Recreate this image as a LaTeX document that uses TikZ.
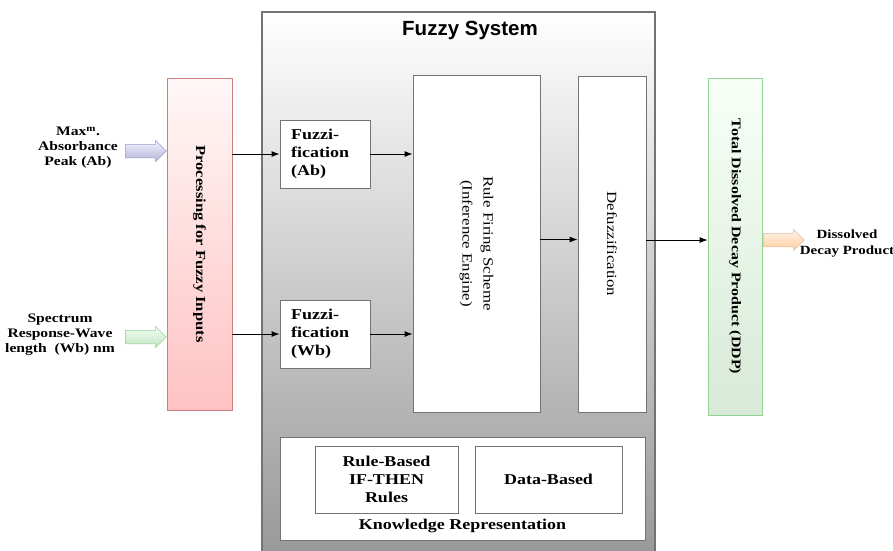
\documentclass[tikz,border=0pt]{standalone}
\usepackage{fontspec}
\setmainfont{Liberation Serif}[FakeStretch=1.2]
\setsansfont{Liberation Sans}
\usetikzlibrary{positioning,shapes.arrows,arrows.meta}

\begin{document}
\begin{tikzpicture}[
		x=1pt, y=-1pt,
		ar/.style={-{Latex[length=8pt,width=6pt]}, line width=0.9pt},
		mybox/.style={draw=black!55, fill=white, line width=0.9pt, inner sep=0pt},
		txt/.style={font=\bfseries\fontsize{15}{18}\selectfont, align=left},
		vtxt/.style={rotate=-90, align=center},
		fatar/.style={single arrow, minimum width=21pt, minimum height=41pt, single arrow head extend=4pt, inner xsep=0pt, inner ysep=6.5pt, anchor=west, line width=0.5pt}
	]
		\useasboundingbox (0,0) rectangle (893,550);
		% fuzzy system frame
		\node[draw=black!55, line width=1.2pt, top color=white, bottom color=black!40, minimum width=393pt, minimum height=540pt, inner sep=0pt] (sys) at (458.5,282) {};
		\node[font=\sffamily\bfseries\fontsize{20.5}{24}\selectfont] (title) at (470,30) {Fuzzy System};

		% inputs
		\node[fatar, draw=blue!30!gray!60, top color=blue!5, bottom color=blue!30!gray!45] (inab) at (125,151) {};
		\node[fatar, draw=green!40!gray!60, top color=green!5, bottom color=green!35!gray!35] (inwb) at (125,337) {};
		\node[font=\bfseries\fontsize{13}{15}\selectfont, align=center] (ablbl) at (78,148) {Max\textsuperscript{m}.\\Absorbance\\Peak (Ab)};
		\node[font=\bfseries\fontsize{13}{15}\selectfont, align=center] (wblbl) at (60,335) {Spectrum\\Response-Wave\\length\ \ (Wb) nm};

		% processing
		\node[draw=red!45!gray!70, line width=0.7pt, top color=red!3, bottom color=red!24, minimum width=65pt, minimum height=332pt, inner sep=0pt] (proc) at (199.5,244) {};
		\node[vtxt, font=\bfseries\fontsize{13.8}{17}\selectfont] (proctxt) at (proc) {Processing for Fuzzy Inputs};

		% fuzzification
		\node[mybox, minimum width=90pt, minimum height=68pt] (fuzzab) at (325,154) {};
		\node[txt, anchor=west] (fuzzabtxt) at ([xshift=8pt]fuzzab.west) {Fuzzi-\\fication\\(Ab)};
		\node[mybox, minimum width=90pt, minimum height=68pt] (fuzzwb) at (325,334) {};
		\node[txt, anchor=west] (fuzzwbtxt) at ([xshift=8pt]fuzzwb.west) {Fuzzi-\\fication\\(Wb)};

		% inference and defuzzification
		\node[mybox, minimum width=127pt, minimum height=337pt] (rule) at (476.5,243.5) {};
		\node[vtxt, font=\fontsize{14}{21}\selectfont] (ruletxt) at (rule) {Rule Firing Scheme\\(Inference Engine)};
		\node[mybox, minimum width=68pt, minimum height=336pt] (defuzz) at (612,244) {};
		\node[vtxt, font=\fontsize{14}{17}\selectfont] (defuzztxt) at (defuzz) {Defuzzification};

		% output
		\node[draw=green!40!gray!60, line width=0.7pt, top color=green!3, bottom color=green!30!gray!24, minimum width=54pt, minimum height=337pt, inner sep=0pt] (tddp) at (735,246.5) {};
		\node[vtxt, font=\bfseries\fontsize{13.3}{16}\selectfont] (tddptxt) at (tddp) {Total Dissolved Decay Product (DDP)};
		\node[fatar, draw=orange!40!gray!50, top color=orange!8, bottom color=orange!40] (out) at (763,240) {};
		\node[font=\bfseries\fontsize{12.5}{16}\selectfont, align=center] (outlbl) at (847,244) {Dissolved\\Decay Product};

		% knowledge
		\node[mybox, minimum width=365pt, minimum height=103pt] (know) at (462.5,488.5) {};
		\node[mybox, minimum width=143pt, minimum height=67pt, font=\bfseries\fontsize{15}{18}\selectfont, align=center] (rbased) at (386.5,479.5) {Rule-Based\\IF-THEN\\Rules};
		\node[mybox, minimum width=147pt, minimum height=67pt, font=\bfseries\fontsize{15}{18}\selectfont] (dbased) at (548.5,479.5) {Data-Based};
		\node[font=\bfseries\fontsize{15}{18}\selectfont] (knowtxt) at (462.5,526) {Knowledge Representation};

		% connectors
		\draw[ar] (proc.east |- fuzzab.west) -- (fuzzab.west);
		\draw[ar] (proc.east |- fuzzwb.west) -- (fuzzwb.west);
		\draw[ar] (fuzzab.east) -- (fuzzab.east -| rule.west);
		\draw[ar] (fuzzwb.east) -- (fuzzwb.east -| rule.west);
		\draw[ar] ([yshift=4pt]rule.east) -- ([yshift=4pt]rule.east -| defuzz.west);
		\draw[ar] ([yshift=4pt]defuzz.east) -- ([yshift=4pt]defuzz.east -| tddp.west);
	\end{tikzpicture}
\end{document}
